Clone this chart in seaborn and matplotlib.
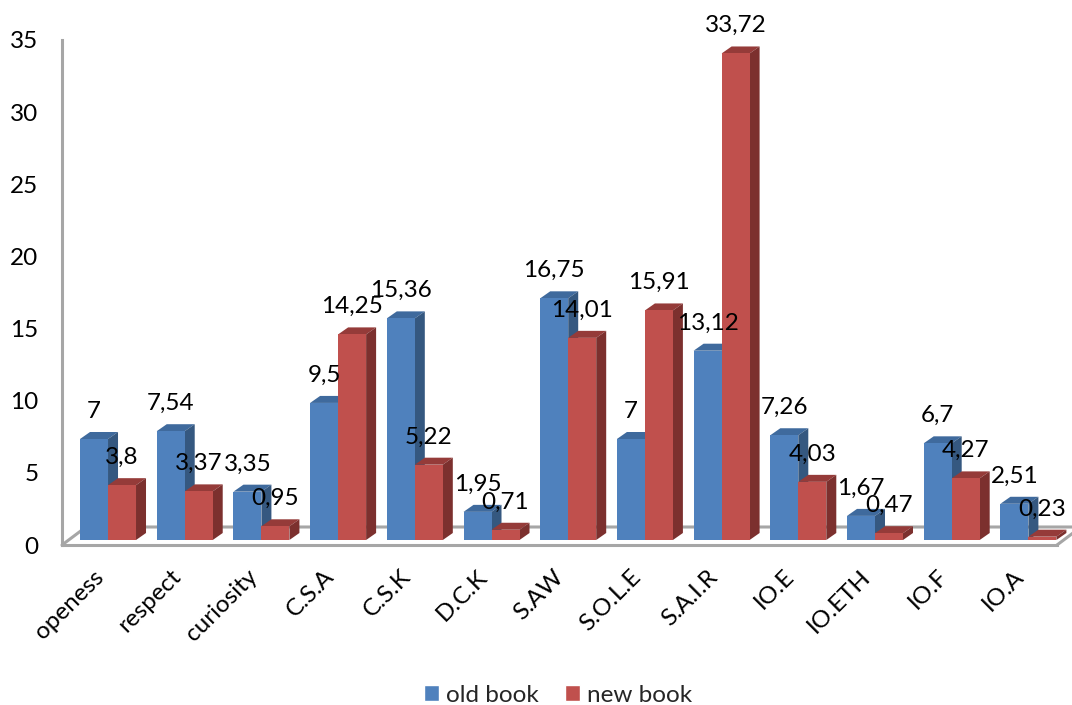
import matplotlib
matplotlib.use("Agg")
import matplotlib.pyplot as plt
from matplotlib.patches import Polygon
from matplotlib.lines import Line2D
from matplotlib.transforms import Affine2D, ScaledTranslation
import pandas as pd
import seaborn as sns

categories = ["openess", "respect", "curiosity", "C.S.A", "C.S.K", "D.C.K", "S.AW",
              "S.O.L.E", "S.A.I.R", "IO.E", "IO.ETH", "IO.F", "IO.A"]
old_book = [7, 7.54, 3.35, 9.5, 15.36, 1.95, 16.75, 7, 13.12, 7.26, 1.67, 6.7, 2.51]
new_book = [3.8, 3.37, 0.95, 14.25, 5.22, 0.71, 14.01, 15.91, 33.72, 4.03, 0.47, 4.27, 0.23]
old_label_text = ["7", "7,54", "3,35", "9,5", "15,36", "1,95", "16,75", "7", "13,12", "7,26", "1,67", "6,7", "2,51"]
new_label_text = ["3,8", "3,37", "0,95", "14,25", "5,22", "0,71", "14,01", "15,91", "33,72", "4,03", "0,47", "4,27", "0,23"]

W, H = 1072, 705
BLUE, BLUE_TOP, BLUE_SIDE = "#4F81BD", "#3F6A9D", "#355880"
RED, RED_TOP, RED_SIDE = "#C0504D", "#953B39", "#7C302E"
GRID = "#A6A6A6"
FONT_SIZE = 17.5

sns.set_theme(style="white")
plt.rcParams["font.family"] = ["Lato", "DejaVu Sans"]

fig = plt.figure(figsize=(W / 100, H / 100), dpi=100, facecolor="white")
ax = fig.add_axes([62 / W, 1 - 545 / H, (1057 - 62) / W, (545 - 40) / H])

df = pd.DataFrame({
    "category": categories * 2,
    "share": old_book + new_book,
    "book": ["old book"] * len(categories) + ["new book"] * len(categories),
})
sns.barplot(data=df, x="category", y="share", hue="book", order=categories,
            palette={"old book": BLUE, "new book": RED}, saturation=1,
            width=0.73, gap=0, errorbar=None, ax=ax)

ax.set_xlim(-0.6, 12.373)
ax.set_ylim(0, 35)
ax.set_xlabel("")
ax.set_ylabel("")
ax.set_facecolor("none")

# Pixel-sized depth of the pseudo-3D columns, expressed in data units
px_x = (ax.get_xlim()[1] - ax.get_xlim()[0]) / (1057 - 62)
px_y = 35 / (545 - 40)
depth_x, depth_y = 10 * px_x, 7 * px_y
lift = 5 * px_y

for container, top_col, side_col, z, texts in (
    (ax.containers[0], BLUE_TOP, BLUE_SIDE, 3, old_label_text),
    (ax.containers[1], RED_TOP, RED_SIDE, 5, new_label_text),
):
    for bar, text in zip(container, texts):
        bar.set_y(lift)
        bar.set_zorder(z + 1)
        bar.set_edgecolor("none")
        x0, x1 = bar.get_x(), bar.get_x() + bar.get_width()
        y0, y1 = lift, lift + bar.get_height()
        ax.add_patch(Polygon([(x0, y1), (x1, y1), (x1 + depth_x, y1 + depth_y), (x0 + depth_x, y1 + depth_y)],
                             closed=True, fc=top_col, ec="none", zorder=z, clip_on=False))
        ax.add_patch(Polygon([(x1, y0), (x1, y1), (x1 + depth_x, y1 + depth_y), (x1 + depth_x, y0 + depth_y)],
                             closed=True, fc=side_col, ec="none", zorder=z, clip_on=False))
        ax.annotate(text, xy=((x0 + x1) / 2, y1), xytext=(0, 20), textcoords="offset points",
                    ha="center", va="center", fontsize=FONT_SIZE, color="black",
                    zorder=10, annotation_clip=False)

# Chart frame: left wall edge and the floor outline
for side in ("top", "right"):
    ax.spines[side].set_visible(False)
for side in ("left", "bottom"):
    ax.spines[side].set_color(GRID)
    ax.spines[side].set_linewidth(2.2)
    ax.spines[side].set_zorder(1)

to_fig = Affine2D().scale(1 / W, -1 / H).translate(0, 1) + fig.transFigure
for xs, ys in (([62, 86, W], [545, 527, 527]), ([1057, 1081], [545, 527])):
    fig.add_artist(Line2D(xs, ys, transform=to_fig, color=GRID, lw=2.2, zorder=0))

ax.set_yticks(range(0, 36, 5))
ax.tick_params(axis="y", length=0, pad=17, labelsize=FONT_SIZE, labelcolor="black")
ax.tick_params(axis="x", length=0, pad=15, labelsize=FONT_SIZE, labelcolor="black")
ax.set_xticks(range(len(categories)))
ax.set_xticklabels(categories, rotation=45, ha="right", rotation_mode="anchor")
shift = ScaledTranslation(-15 / 100, 0, fig.dpi_scale_trans)
for label in ax.get_xticklabels():
    label.set_transform(label.get_transform() + shift)

handles, labels = ax.get_legend_handles_labels()
fig.legend(handles, labels, loc="center", bbox_to_anchor=(558 / W, 1 - 695 / H), ncol=2,
           frameon=False, fontsize=FONT_SIZE, handlelength=0.62, handleheight=0.62,
           handletextpad=0.3, columnspacing=1.08, borderpad=0, borderaxespad=0)
if ax.get_legend():
    ax.get_legend().remove()

fig.savefig("out.png", dpi=100, facecolor="white")
